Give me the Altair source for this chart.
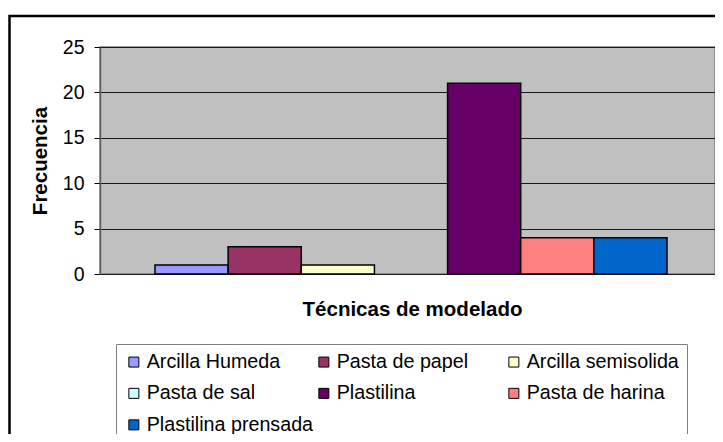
import altair as alt
import pandas as pd

series = ["Arcilla Humeda", "Pasta de papel", "Arcilla semisolida", "Pasta de sal",
          "Plastilina", "Pasta de harina", "Plastilina prensada"]
frecuencia = [1, 3, 1, 0, 21, 4, 4]
colors = ["#9999FF", "#993366", "#FFFFCC", "#CCFFFF", "#660066", "#FF8080", "#0066CC"]
y_ticks = [0, 5, 10, 15, 20, 25]

df = pd.DataFrame({"serie": series, "frecuencia": frecuencia})

FONT = "Liberation Sans"

bars = alt.Chart(df).transform_filter("datum.frecuencia > 0").mark_bar(
    stroke="black", strokeWidth=1.5
).encode(
    x=alt.X(
        "serie:N",
        scale=alt.Scale(domain=series, paddingInner=0, paddingOuter=0.704, align=0.534),
        axis=alt.Axis(
            title="Técnicas de modelado", labels=False, ticks=False, domain=False,
            titleFont=FONT, titleFontSize=20.5, titleFontWeight="bold", titleColor="black",
            titleX=312, titleY=41, titleBaseline="alphabetic", titleAlign="center",
        ),
    ),
    y=alt.Y(
        "frecuencia:Q",
        scale=alt.Scale(domain=[0, 25]),
        axis=alt.Axis(
            values=y_ticks, title="Frecuencia",
            labelFont=FONT, labelFontSize=19.5, labelColor="black", labelPadding=10,
            tickSize=6, tickColor="black", tickWidth=1,
            domainColor="#606060", domainWidth=1.5,
            gridColor="#1a1a1a", gridWidth=1,
            titleFont=FONT, titleFontSize=20.5, titleFontWeight="bold", titleColor="black",
            titleX=-60, titleY=113.5, titleAngle=-90, titleAlign="center", titleBaseline="middle",
        ),
    ),
    color=alt.Color(
        "serie:N",
        scale=alt.Scale(domain=series, range=colors),
        legend=alt.Legend(
            title=None, orient="none", legendX=16, legendY=297,
            columns=3, gridAlign="all", direction="horizontal",
            symbolType="square", symbolSize=100, symbolStrokeColor="black", symbolStrokeWidth=1,
            labelFont=FONT, labelFontSize=19.7, labelColor="black", labelOffset=3, labelLimit=400,
            columnPadding=-1, rowPadding=10.5, padding=8,
            strokeColor="#808080", fillColor="white",
        ),
    ),
)

frame = alt.Chart(pd.DataFrame({"k": [0]})).mark_rect(
    filled=False, stroke="black", strokeWidth=2.5
).encode(
    x=alt.value(-90.5), x2=alt.value(660), y=alt.value(-31), y2=alt.value(420)
)

chart = alt.layer(frame, bars).properties(
    width=615, height=227,
    padding={"left": 92, "top": 39, "right": 0, "bottom": 160},
    autosize=alt.AutoSizeParams(type="none"),
    background="white",
).configure_view(
    fill="#C0C0C0", stroke="#808080", strokeWidth=1.5
)

chart.save("out.html", embed_options={"renderer": "svg", "actions": False})
